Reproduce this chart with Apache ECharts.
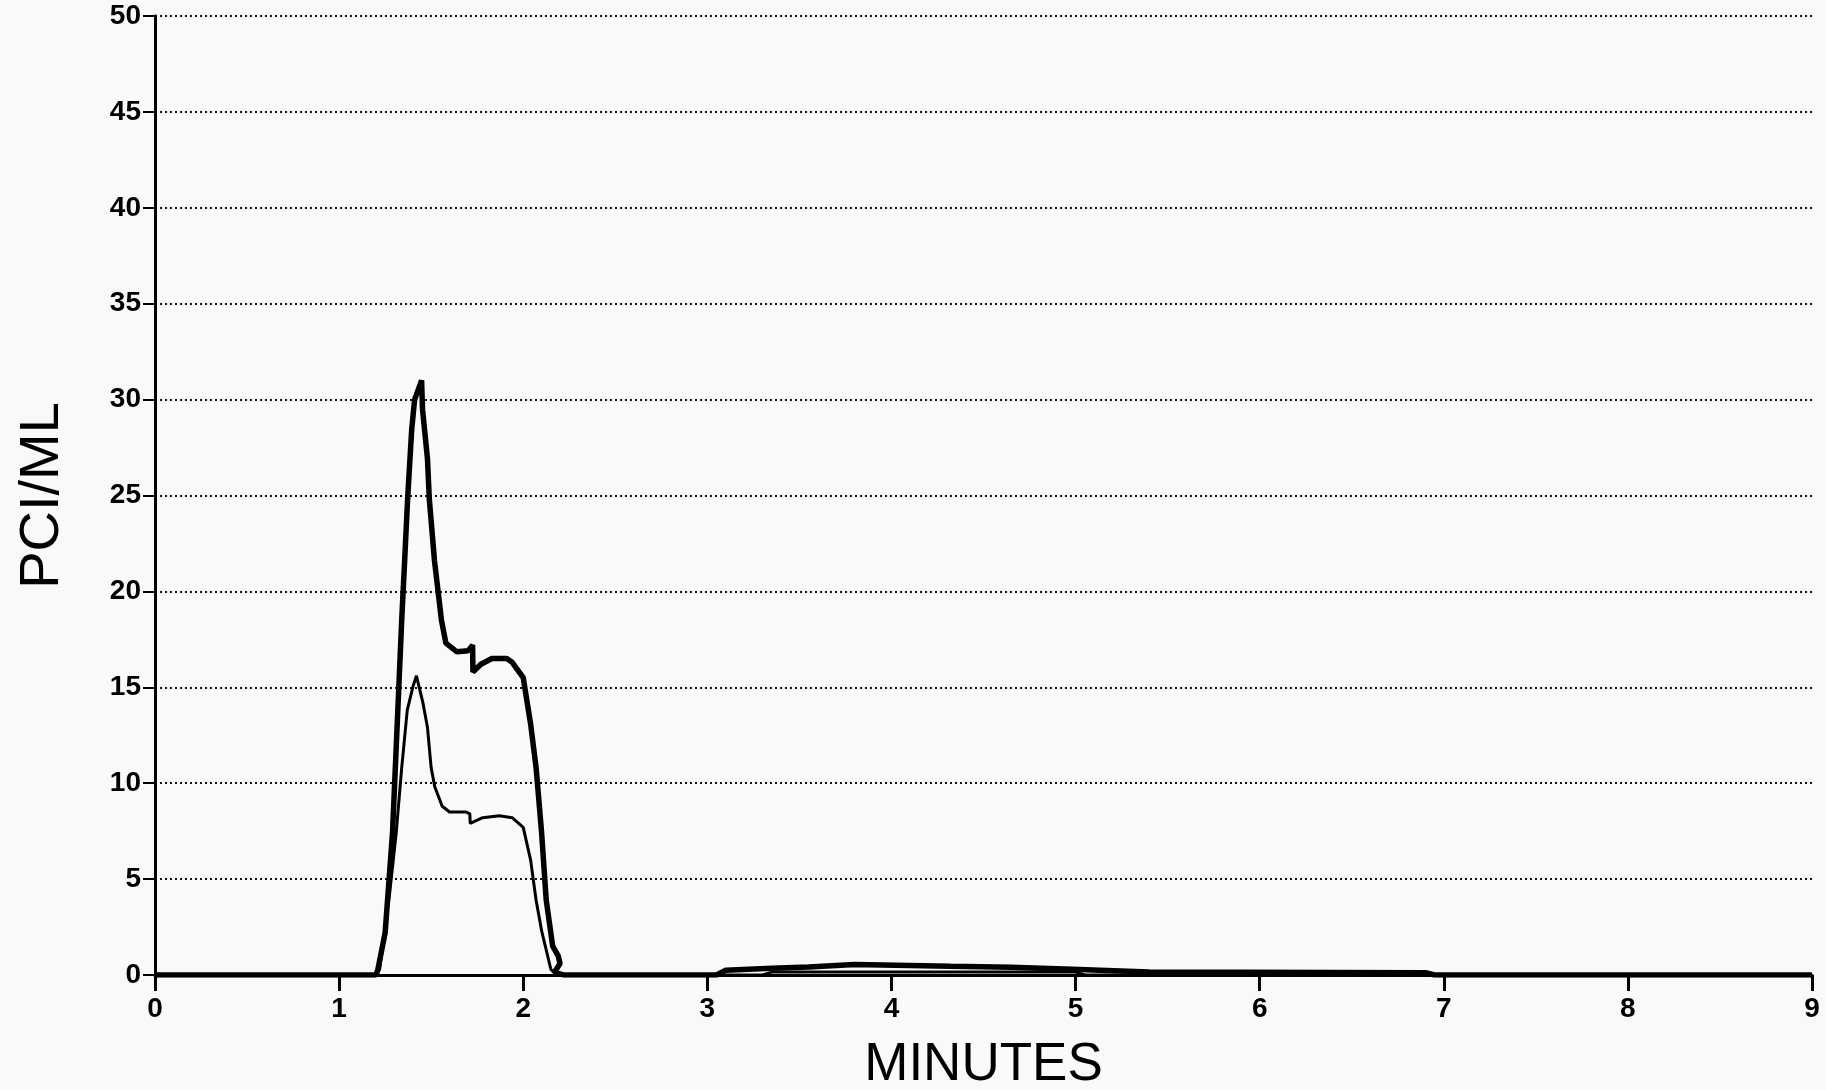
<!DOCTYPE html>
<html>
<head>
<meta charset="utf-8">
<script src="https://cdn.jsdelivr.net/npm/echarts@6/dist/echarts.min.js"></script>
<style>
html,body{margin:0;padding:0;background:#f9f9f9;}
#c{width:1826px;height:1090px;}
</style>
</head>
<body>
<div id="c"></div>
<script>
// Thick (upper) trace: minutes / PCI per ML
var thickMinutes = [0,1.2,1.21,1.25,1.29,1.34,1.356,1.372,1.394,1.41,1.448,1.453,1.48,1.49,1.518,1.556,1.58,1.64,1.70,1.725,1.727,1.77,1.83,1.91,1.94,2.0,2.04,2.07,2.1,2.125,2.16,2.19,2.2,2.17,2.22,3.05,3.1,3.35,3.55,3.8,4.32,4.65,4.98,5.4,6.9,6.95,9];
var thickValues  = [0,0,0.26,2.2,7.4,18.5,21.6,24.8,28.4,30.0,31.0,29.5,26.9,24.8,21.6,18.5,17.3,16.85,16.9,17.2,15.8,16.2,16.5,16.5,16.3,15.5,13.1,10.8,7.4,3.9,1.5,1.0,0.6,0.15,0,0,0.25,0.35,0.42,0.55,0.45,0.4,0.3,0.15,0.12,0,0];
// Thin (lower) trace
var thinMinutes = [0,1.2,1.22,1.275,1.31,1.34,1.37,1.40,1.42,1.455,1.48,1.50,1.52,1.56,1.60,1.69,1.71,1.712,1.78,1.87,1.94,2.0,2.04,2.07,2.1,2.15,2.18,3.3,3.35,5.0,5.05,9];
var thinValues  = [0,0,0.3,4.3,7.4,10.8,13.8,15.0,15.6,14.2,12.9,10.8,9.8,8.8,8.5,8.5,8.4,7.9,8.2,8.3,8.2,7.7,6.0,3.9,2.3,0.3,0,0,0.15,0.15,0,0];
// Axis ticks
var xTicks = [0,1,2,3,4,5,6,7,8,9];
var yTicks = [0,5,10,15,20,25,30,35,40,45,50];

function pairs(xs, ys){ return xs.map(function(x,i){ return [x, ys[i]]; }); }

var font = "'Liberation Sans', Arial, sans-serif";
var chart = echarts.init(document.getElementById('c'));
chart.setOption({
  backgroundColor: '#f9f9f9',
  animation: false,
  grid: {left: 155, right: 14, top: 16, bottom: 115, containLabel: false, outerBoundsMode: 'none'},
  xAxis: [{
    type: 'value', min: xTicks[0], max: xTicks[xTicks.length-1], interval: 1,
    name: 'MINUTES', nameLocation: 'middle', nameGap: 64,
    nameTextStyle: {fontFamily: font, fontSize: 53, color: '#000'},
    axisLine: {show: true, onZero: false, lineStyle: {color: '#000', width: 3}},
    axisTick: {show: true, length: 16, lineStyle: {color: '#000', width: 3}},
    axisLabel: {margin: 20, fontFamily: font, fontSize: 28, fontWeight: 'bold', color: '#000'},
    splitLine: {show: false}
  },{
    type: 'value', position: 'top', min: 0, max: 9,
    axisLine: {show: true, lineStyle: {color: '#000', width: 3}},
    axisTick: {show: false}, axisLabel: {show: false}, splitLine: {show: false}
  }],
  yAxis: [{
    type: 'value', min: yTicks[0], max: yTicks[yTicks.length-1], interval: 5,
    name: 'PCI/ML', nameLocation: 'middle', nameGap: 84,
    nameTextStyle: {fontFamily: font, fontSize: 56, color: '#000'},
    axisLine: {show: true, onZero: false, lineStyle: {color: '#000', width: 3}},
    axisTick: {show: true, length: 12, lineStyle: {color: '#000', width: 2}},
    axisLabel: {margin: 14, fontFamily: font, fontSize: 28, fontWeight: 'bold', color: '#000'},
    splitLine: {show: true, lineStyle: {color: '#111', width: 2, type: [2, 3]}}
  },{
    type: 'value', position: 'right', min: 0, max: 50,
    axisLine: {show: true, lineStyle: {color: '#000', width: 3}},
    axisTick: {show: false}, axisLabel: {show: false}, splitLine: {show: false}
  }],
  series: [{
    type: 'line', data: pairs(thickMinutes, thickValues), showSymbol: false,
    lineStyle: {color: '#000', width: 5.5}, z: 5
  },{
    type: 'line', data: pairs(thinMinutes, thinValues), showSymbol: false,
    lineStyle: {color: '#000', width: 3}, z: 6
  }]
});
</script>
</body>
</html>
